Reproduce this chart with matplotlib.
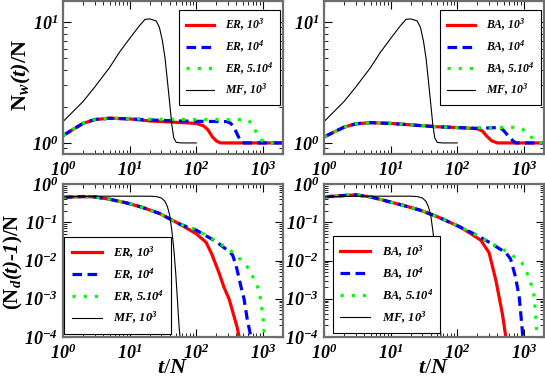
import numpy as np
import matplotlib.pyplot as plt
from matplotlib.ticker import LogLocator, FuncFormatter, NullFormatter

plt.rcParams['font.family'] = 'Liberation Serif'
plt.rcParams['mathtext.fontset'] = 'custom'
plt.rcParams['mathtext.rm'] = 'Liberation Serif:bold:italic'
plt.rcParams['mathtext.it'] = 'Liberation Serif:bold:italic'
plt.rcParams['mathtext.bf'] = 'Liberation Serif:bold:italic'

# --- N_w(t)/N, ER ---
er_w_t1 = [1, 1.5, 2, 3, 5, 10, 20, 50, 100, 130, 150, 175, 200, 230, 2000]
er_w_v1 = [1.15, 1.32, 1.45, 1.56, 1.6, 1.58, 1.52, 1.48, 1.45, 1.38, 1.28, 1.12, 1.04, 1.0, 1.0]
er_w_t2 = [1, 1.5, 2, 3, 5, 10, 20, 50, 100, 290, 330, 380, 420, 470, 520, 2000]
er_w_v2 = [1.15, 1.32, 1.45, 1.56, 1.6, 1.58, 1.55, 1.52, 1.51, 1.5, 1.45, 1.3, 1.15, 1.02, 1.0, 1.0]
er_w_t3 = [1, 1.5, 2, 3, 5, 10, 20, 100, 575, 680, 790, 900, 1000, 1100, 2000]
er_w_v3 = [1.15, 1.32, 1.45, 1.56, 1.61, 1.59, 1.57, 1.56, 1.56, 1.45, 1.23, 1.1, 1.03, 1.0, 1.0]

# --- N_w(t)/N, BA ---
ba_w_t1 = [1, 1.5, 2, 3, 5, 10, 20, 50, 100, 200, 240, 280, 330, 400, 2000]
ba_w_v1 = [1.12, 1.25, 1.35, 1.44, 1.47, 1.45, 1.41, 1.36, 1.34, 1.31, 1.25, 1.13, 1.04, 1.0, 1.0]
ba_w_t2 = [1, 1.5, 2, 3, 5, 10, 20, 50, 100, 200, 400, 450, 500, 600, 700, 760, 2000]
ba_w_v2 = [1.12, 1.25, 1.35, 1.44, 1.47, 1.45, 1.41, 1.36, 1.34, 1.32, 1.34, 1.33, 1.26, 1.12, 1.03, 1.0, 1.0]
ba_w_t3 = [1, 1.5, 2, 3, 5, 10, 20, 50, 100, 200, 500, 800, 950, 1100, 1260, 1450, 1700, 2000]
ba_w_v3 = [1.12, 1.25, 1.35, 1.44, 1.47, 1.45, 1.41, 1.36, 1.34, 1.33, 1.34, 1.35, 1.3, 1.22, 1.13, 1.05, 1.01, 1.0]

# --- mean field, same in both columns ---
mf_w_t = [1, 2, 3, 5, 7, 10, 14, 17, 20, 25, 28, 31, 34, 37, 40, 43, 46, 50, 60, 100]
mf_w_v = [1.5, 2.2, 2.9, 4.2, 5.6, 7.3, 9.3, 10.5, 10.6, 10.2, 9.0, 7.0, 5.0, 3.2, 2.1, 1.4, 1.1, 1.01, 1.0, 1.0]

# --- (N_d(t)-1)/N, ER ---
er_d_t1 = [1, 2, 3, 5, 9, 15, 28, 56, 100, 140, 170, 220, 260, 310, 360, 410, 440]
er_d_v1 = [0.45, 0.47, 0.46, 0.4, 0.32, 0.25, 0.17, 0.09, 0.05, 0.03, 0.015, 0.0047, 0.002, 0.001, 0.0004, 0.00018, 0.0001]
er_d_t2 = [1, 2, 3, 5, 9, 15, 28, 56, 100, 200, 300, 350, 390, 430, 470, 520, 580, 660]
er_d_v2 = [0.45, 0.47, 0.46, 0.4, 0.32, 0.25, 0.17, 0.09, 0.062, 0.031, 0.018, 0.014, 0.008, 0.004, 0.002, 0.001, 0.0003, 0.0001]
er_d_t3 = [1, 2, 3, 5, 9, 15, 28, 56, 100, 200, 300, 400, 500, 620, 750, 870, 950, 1020, 1060]
er_d_v3 = [0.45, 0.47, 0.46, 0.4, 0.32, 0.25, 0.17, 0.09, 0.063, 0.032, 0.02, 0.014, 0.009, 0.006, 0.003, 0.0017, 0.0007, 0.00023, 0.0001]

# --- (N_d(t)-1)/N, BA ---
ba_d_t1 = [1, 2, 3, 5, 8.6, 15, 27, 50, 107, 160, 225, 300, 380, 475, 535]
ba_d_v1 = [0.46, 0.5, 0.52, 0.46, 0.36, 0.28, 0.21, 0.14, 0.077, 0.05, 0.034, 0.016, 0.003, 0.0004, 0.0001]
ba_d_t2 = [1, 2, 3, 5, 8.6, 15, 27, 50, 107, 200, 300, 535, 630, 745, 850, 945, 960]
ba_d_v2 = [0.46, 0.5, 0.52, 0.46, 0.36, 0.28, 0.21, 0.14, 0.077, 0.045, 0.03, 0.016, 0.011, 0.0038, 0.0011, 0.00015, 0.0001]
ba_d_t3 = [1, 2, 3, 5, 8.6, 15, 27, 50, 107, 200, 300, 600, 935, 1180, 1400, 1480, 1560, 1600]
ba_d_v3 = [0.46, 0.5, 0.52, 0.46, 0.36, 0.28, 0.21, 0.14, 0.077, 0.045, 0.03, 0.016, 0.0086, 0.0038, 0.0014, 0.0005, 0.00013, 0.0001]

mf_d_t = [1, 3, 10, 20, 25, 30, 34, 37, 40, 43, 46, 49, 52, 55, 57]
mf_d_v = [0.46, 0.48, 0.48, 0.48, 0.47, 0.43, 0.35, 0.25, 0.15, 0.06, 0.02, 0.005, 0.001, 0.0002, 0.0001]

sizes = ['10$^3$', '10$^4$', '5.10$^4$']


def decade(v, pos):
    return '$10^{%d}$' % int(round(np.log10(v)))


def style_axis(ax, ylim):
    ax.set_xscale('log')
    ax.set_yscale('log')
    ax.set_xlim(1, 2000)
    ax.set_ylim(*ylim)
    for a in (ax.xaxis, ax.yaxis):
        a.set_major_locator(LogLocator(base=10))
        a.set_minor_locator(LogLocator(base=10, subs=np.arange(2, 10), numticks=20))
        a.set_major_formatter(FuncFormatter(decade))
        a.set_minor_formatter(NullFormatter())
    ax.tick_params(which='both', direction='in', top=True, right=True, labelsize=13)
    ax.tick_params(axis='x', pad=5)
    ax.tick_params(which='major', length=6, width=0.8)
    ax.tick_params(which='minor', length=3, width=0.6)
    for s in ax.spines.values():
        s.set_color('#6e6e6e')
        s.set_linewidth(1.6)


def draw(ax, t1, v1, t2, v2, t3, v3, tm, vm, net, loc, anchor, fs):
    ax.plot(t1, v1, color='#ff0000', lw=2.3, label=net + ', ' + sizes[0])
    ax.plot(t2, v2, color='#0000ff', lw=2.3, ls=(0, (3, 1.7)), label=net + ', ' + sizes[1])
    ax.plot(t3, v3, color='#00ff00', lw=2.3, ls=(0, (1, 2.5)), label=net + ', ' + sizes[2])
    ax.plot(tm, vm, color='black', lw=0.8, label='MF, ' + sizes[0])
    leg = ax.legend(loc=loc, bbox_to_anchor=anchor, borderaxespad=0, handlelength=2.4,
                    labelspacing=0.45, handletextpad=0.9, borderpad=0.6,
                    fancybox=False, framealpha=1,
                    prop={'family': 'Liberation Serif', 'weight': 'bold', 'style': 'italic', 'size': fs})
    leg.get_frame().set_edgecolor('black')
    leg.get_frame().set_linewidth(0.8)


fig = plt.figure(figsize=(5.45, 3.79), dpi=100)
w, h = 220 / 545, 153 / 379
ax_tl = fig.add_axes([63 / 545, 1 - 154 / 379, w, h])
ax_tr = fig.add_axes([324 / 545, 1 - 154 / 379, w, h])
ax_bl = fig.add_axes([63 / 545, 1 - 337 / 379, w, h])
ax_br = fig.add_axes([324 / 545, 1 - 337 / 379, w, h])

for ax in (ax_tl, ax_tr):
    style_axis(ax, (0.81, 14.9))
for ax in (ax_bl, ax_br):
    style_axis(ax, (1e-4, 1))

draw(ax_tl, er_w_t1, er_w_v1, er_w_t2, er_w_v2, er_w_t3, er_w_v3, mf_w_t, mf_w_v,
     'ER', 'upper right', (0.986, 0.941), 8.5)
draw(ax_tr, ba_w_t1, ba_w_v1, ba_w_t2, ba_w_v2, ba_w_t3, ba_w_v3, mf_w_t, mf_w_v,
     'BA', 'upper right', (0.986, 0.941), 8.5)
draw(ax_bl, er_d_t1, er_d_v1, er_d_t2, er_d_v2, er_d_t3, er_d_v3, mf_d_t, mf_d_v,
     'ER', 'lower left', (0.005, 0.02), 9)
draw(ax_br, ba_d_t1, ba_d_v1, ba_d_t2, ba_d_v2, ba_d_t3, ba_d_v3, mf_d_t, mf_d_v,
     'BA', 'lower left', (0.04, 0.026), 9)

fig.text(21 / 545, 1 - 75 / 379, 'N$_{w}(t)$/N', rotation=90, ha='center', va='center',
         fontsize=16, fontweight='bold')
fig.text(13 / 545, 1 - 262 / 379, '(N$_{d}(t)$-$1$)/N', rotation=90, ha='center', va='center',
         fontsize=15, fontweight='bold')
for ax in (ax_bl, ax_br):
    ax.set_xlabel('$t$/$N$', fontsize=16, labelpad=-3)

fig.savefig('out.png', dpi=100)
